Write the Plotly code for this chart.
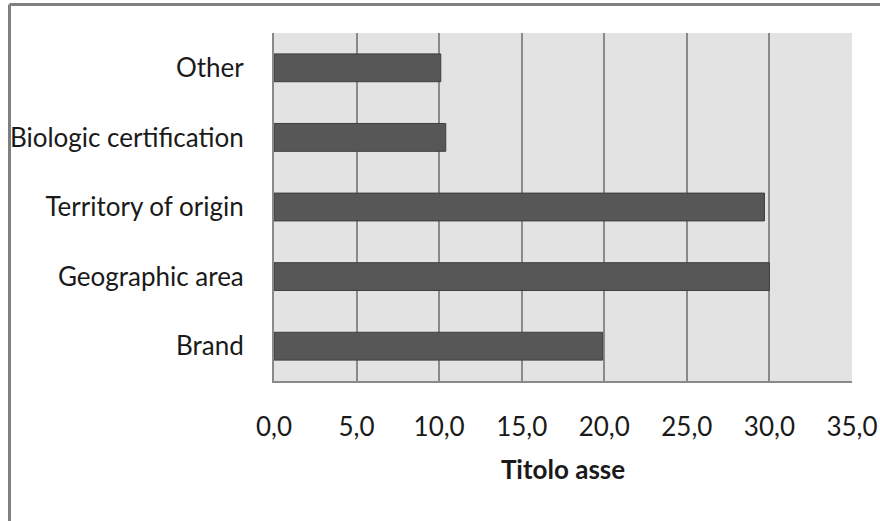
import plotly.graph_objects as go

categories = ["Brand", "Geographic area", "Territory of origin", "Biologic certification", "Other"]
values = [19.9, 30.0, 29.7, 10.4, 10.1]
x_ticks = [0, 5, 10, 15, 20, 25, 30, 35]

W, H = 880, 521
L, R, T, B = 274, 28, 33, 140
pw, ph = W - L - R, H - T - B

fig = go.Figure(
    go.Bar(
        y=categories,
        x=values,
        orientation="h",
        marker=dict(color="#575757", line=dict(color="#3f3f3f", width=1)),
        width=0.4,
        hoverinfo="x+y",
    )
)

fig.update_layout(
    width=W,
    height=H,
    margin=dict(l=L, r=R, t=T, b=B, pad=0),
    paper_bgcolor="white",
    plot_bgcolor="#e3e3e3",
    separators=",.",
    showlegend=False,
    font=dict(family="Lato, sans-serif", size=26, color="#1a1a1a"),
    xaxis=dict(
        range=[0, 35],
        tickvals=x_ticks,
        tickformat=".1f",
        automargin=False,
        showgrid=True,
        gridcolor="#8a8a8a",
        gridwidth=2,
        zeroline=False,
        showline=True,
        linecolor="#8a8a8a",
        linewidth=2,
        ticks="",
        ticklabelstandoff=22,
        title=dict(text="<b>Titolo asse</b>", font=dict(size=26, color="#1a1a1a"), standoff=20),
    ),
    yaxis=dict(
        categoryorder="array",
        categoryarray=categories,
        automargin=False,
        showgrid=False,
        zeroline=False,
        showline=True,
        linecolor="#8a8a8a",
        linewidth=2,
        ticks="",
        ticklabelstandoff=23,
    ),
    shapes=[
        # chart frame: left and top edges
        dict(type="line", xref="paper", yref="paper",
             x0=(9.5 - L) / pw, x1=(9.5 - L) / pw,
             y0=(T - H) / ph + 1, y1=1 + (T - 4.5) / ph,
             line=dict(color="#808080", width=3)),
        dict(type="line", xref="paper", yref="paper",
             x0=(9.5 - L) / pw, x1=1 + R / pw,
             y0=1 + (T - 4.5) / ph, y1=1 + (T - 4.5) / ph,
             line=dict(color="#808080", width=3)),
    ],
)

fig.write_html("out.html")
